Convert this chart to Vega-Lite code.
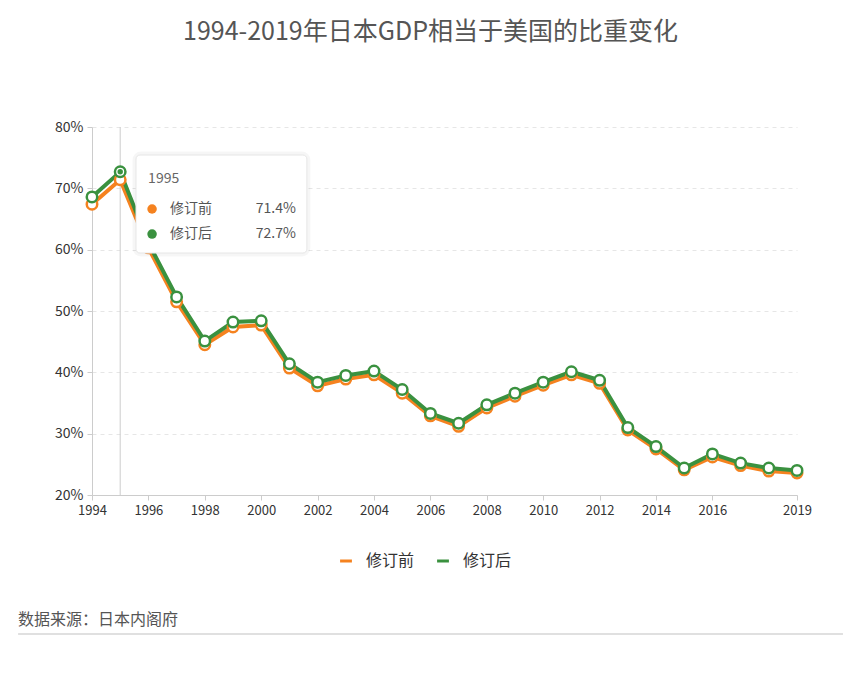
{
  "$schema": "https://vega.github.io/schema/vega-lite/v6.json",
  "width": 705,
  "height": 368,
  "autosize": {"type": "none"},
  "padding": {"left": 92, "top": 127, "right": 64, "bottom": 205},
  "background": "white",
  "title": {
    "text": "1994-2019年日本GDP相当于美国的比重变化",
    "fontSize": 25,
    "fontWeight": "normal",
    "color": "#555555",
    "font": "Noto Sans CJK SC",
    "anchor": "middle",
    "dx": -14,
    "offset": 75
  },
  "config": {
    "font": "Noto Sans CJK SC",
    "view": {"stroke": null}
  },
  "datasets": {
    "main": [
      {"year": 1994, "series": "修订前", "value": 0.674},
      {"year": 1995, "series": "修订前", "value": 0.714},
      {"year": 1996, "series": "修订前", "value": 0.603},
      {"year": 1997, "series": "修订前", "value": 0.515},
      {"year": 1998, "series": "修订前", "value": 0.445},
      {"year": 1999, "series": "修订前", "value": 0.474},
      {"year": 2000, "series": "修订前", "value": 0.477},
      {"year": 2001, "series": "修订前", "value": 0.407},
      {"year": 2002, "series": "修订前", "value": 0.378},
      {"year": 2003, "series": "修订前", "value": 0.389},
      {"year": 2004, "series": "修订前", "value": 0.396},
      {"year": 2005, "series": "修订前", "value": 0.366},
      {"year": 2006, "series": "修订前", "value": 0.329},
      {"year": 2007, "series": "修订前", "value": 0.312},
      {"year": 2008, "series": "修订前", "value": 0.342},
      {"year": 2009, "series": "修订前", "value": 0.361},
      {"year": 2010, "series": "修订前", "value": 0.379},
      {"year": 2011, "series": "修订前", "value": 0.396},
      {"year": 2012, "series": "修订前", "value": 0.382},
      {"year": 2013, "series": "修订前", "value": 0.306},
      {"year": 2014, "series": "修订前", "value": 0.275},
      {"year": 2015, "series": "修订前", "value": 0.241},
      {"year": 2016, "series": "修订前", "value": 0.262},
      {"year": 2017, "series": "修订前", "value": 0.248},
      {"year": 2018, "series": "修订前", "value": 0.239},
      {"year": 2019, "series": "修订前", "value": 0.236},
      {"year": 1994, "series": "修订后", "value": 0.686},
      {"year": 1995, "series": "修订后", "value": 0.727},
      {"year": 1996, "series": "修订后", "value": 0.611},
      {"year": 1997, "series": "修订后", "value": 0.523},
      {"year": 1998, "series": "修订后", "value": 0.451},
      {"year": 1999, "series": "修订后", "value": 0.482},
      {"year": 2000, "series": "修订后", "value": 0.484},
      {"year": 2001, "series": "修订后", "value": 0.414},
      {"year": 2002, "series": "修订后", "value": 0.384},
      {"year": 2003, "series": "修订后", "value": 0.395},
      {"year": 2004, "series": "修订后", "value": 0.402},
      {"year": 2005, "series": "修订后", "value": 0.372},
      {"year": 2006, "series": "修订后", "value": 0.333},
      {"year": 2007, "series": "修订后", "value": 0.317},
      {"year": 2008, "series": "修订后", "value": 0.347},
      {"year": 2009, "series": "修订后", "value": 0.366},
      {"year": 2010, "series": "修订后", "value": 0.384},
      {"year": 2011, "series": "修订后", "value": 0.401},
      {"year": 2012, "series": "修订后", "value": 0.387},
      {"year": 2013, "series": "修订后", "value": 0.310},
      {"year": 2014, "series": "修订后", "value": 0.279},
      {"year": 2015, "series": "修订后", "value": 0.244},
      {"year": 2016, "series": "修订后", "value": 0.267},
      {"year": 2017, "series": "修订后", "value": 0.252},
      {"year": 2018, "series": "修订后", "value": 0.244},
      {"year": 2019, "series": "修订后", "value": 0.240}
    ],
    "notes": [
      {"text": "数据来源：日本内阁府"}
    ]
  },
  "layer": [
    {
      "data": {"name": "main"},
      "transform": [{"filter": "datum.year == 1995 && datum.series == '修订后'"}],
      "mark": {"type": "rule", "color": "#cccccc", "strokeWidth": 1},
      "encoding": {
        "x": {"field": "year", "type": "quantitative"},
        "y": {"datum": 0.8},
        "y2": {"datum": 0.2}
      }
    },
    {
      "data": {"name": "main"},
      "mark": {"type": "line", "strokeWidth": 4},
      "encoding": {
        "x": {
          "field": "year",
          "type": "quantitative",
          "scale": {"domain": [1994, 2019], "nice": false, "zero": false},
          "axis": {
            "title": null,
            "values": [1994, 1996, 1998, 2000, 2002, 2004, 2006, 2008, 2010, 2012, 2014, 2016, 2019],
            "format": "d",
            "grid": false,
            "domainColor": "#cccccc",
            "tickColor": "#cccccc",
            "tickSize": 5,
            "labelFontSize": 13,
            "labelColor": "#333333",
            "labelPadding": 4,
            "labelFlush": false
          }
        },
        "y": {
          "field": "value",
          "type": "quantitative",
          "scale": {"domain": [0.2, 0.8], "nice": false, "zero": false},
          "axis": {
            "title": null,
            "values": [0.2, 0.3, 0.4, 0.5, 0.6, 0.7, 0.8],
            "format": ".0%",
            "grid": true,
            "gridColor": "#e6e6e6",
            "gridDash": [4, 4],
            "domainColor": "#cccccc",
            "tickColor": "#cccccc",
            "tickSize": 5,
            "labelFontSize": 14,
            "labelColor": "#333333",
            "labelPadding": 4
          }
        },
        "color": {
          "field": "series",
          "type": "nominal",
          "sort": ["修订前", "修订后"],
          "scale": {"domain": ["修订前", "修订后"], "range": ["#f5821f", "#3a913f"]},
          "legend": {
            "title": null,
            "orient": "none",
            "direction": "horizontal",
            "legendX": 246,
            "legendY": 426,
            "symbolType": "stroke",
            "symbolStrokeWidth": 3,
            "symbolSize": 140,
            "labelFontSize": 16,
            "labelColor": "#333333",
            "columnPadding": 16,
            "labelOffset": 12
          }
        }
      }
    },
    {
      "data": {"name": "main"},
      "mark": {"type": "point", "filled": false, "fill": "white", "size": 110, "strokeWidth": 2.5, "opacity": 1},
      "encoding": {
        "x": {"field": "year", "type": "quantitative"},
        "y": {"field": "value", "type": "quantitative"},
        "color": {"field": "series", "type": "nominal"}
      }
    },
    {
      "data": {"name": "main"},
      "transform": [{"filter": "datum.year == 1995 && datum.series == '修订后'"}],
      "mark": {"type": "point", "filled": true, "size": 30, "opacity": 1, "color": "#3a913f"},
      "encoding": {
        "x": {"field": "year", "type": "quantitative"},
        "y": {"field": "value", "type": "quantitative"}
      }
    },
    {
      "data": {"name": "notes"},
      "mark": {"type": "rect", "fill": "white", "stroke": "#000000", "strokeOpacity": 0.035, "strokeWidth": 7, "cornerRadius": 5},
      "encoding": {
        "x": {"datum": 1995.56},
        "x2": {"datum": 2001.62},
        "y": {"datum": 0.7543},
        "y2": {"datum": 0.5945}
      }
    },
    {
      "data": {"name": "notes"},
      "mark": {"type": "rect", "fill": "white", "fillOpacity": 0.93, "stroke": "#e6e6e6", "strokeWidth": 1, "cornerRadius": 4},
      "encoding": {
        "x": {"datum": 1995.56},
        "x2": {"datum": 2001.62},
        "y": {"datum": 0.7543},
        "y2": {"datum": 0.5945}
      }
    },
    {
      "data": {"name": "main"},
      "transform": [{"filter": "datum.year == 1995 && datum.series == '修订后'"}],
      "mark": {"type": "text", "align": "left", "baseline": "middle", "fontSize": 14, "color": "#666666"},
      "encoding": {
        "x": {"datum": 1995.99},
        "y": {"datum": 0.7152},
        "text": {"field": "year", "type": "quantitative", "format": "d"}
      }
    },
    {
      "data": {"name": "main"},
      "transform": [{"filter": "datum.year == 1995 && datum.series == '修订前'"}],
      "layer": [
        {
          "mark": {"type": "point", "filled": true, "size": 90, "opacity": 1, "color": "#f5821f"},
          "encoding": {"x": {"datum": 1996.13}, "y": {"datum": 0.6663}}
        },
        {
          "mark": {"type": "text", "align": "left", "baseline": "middle", "fontSize": 14, "color": "#555555"},
          "encoding": {"x": {"datum": 1996.77}, "y": {"datum": 0.6663}, "text": {"field": "series"}}
        },
        {
          "mark": {"type": "text", "align": "right", "baseline": "middle", "fontSize": 14, "color": "#555555"},
          "encoding": {"x": {"datum": 2001.23}, "y": {"datum": 0.6663}, "text": {"field": "value", "type": "quantitative", "format": ".1%"}}
        }
      ]
    },
    {
      "data": {"name": "main"},
      "transform": [{"filter": "datum.year == 1995 && datum.series == '修订后'"}],
      "layer": [
        {
          "mark": {"type": "point", "filled": true, "size": 90, "opacity": 1, "color": "#3a913f"},
          "encoding": {"x": {"datum": 1996.13}, "y": {"datum": 0.6255}}
        },
        {
          "mark": {"type": "text", "align": "left", "baseline": "middle", "fontSize": 14, "color": "#555555"},
          "encoding": {"x": {"datum": 1996.77}, "y": {"datum": 0.6255}, "text": {"field": "series"}}
        },
        {
          "mark": {"type": "text", "align": "right", "baseline": "middle", "fontSize": 14, "color": "#555555"},
          "encoding": {"x": {"datum": 2001.23}, "y": {"datum": 0.6255}, "text": {"field": "value", "type": "quantitative", "format": ".1%"}}
        }
      ]
    },
    {
      "data": {"name": "notes"},
      "mark": {"type": "text", "align": "left", "baseline": "middle", "fontSize": 16, "color": "#555555"},
      "encoding": {
        "x": {"datum": 1991.38},
        "y": {"datum": -0.0038},
        "text": {"field": "text"}
      }
    },
    {
      "data": {"name": "notes"},
      "mark": {"type": "rule", "color": "#e0e0e0", "strokeWidth": 2},
      "encoding": {
        "x": {"datum": 1991.38},
        "x2": {"datum": 2020.63},
        "y": {"datum": -0.0266}
      }
    }
  ]
}
